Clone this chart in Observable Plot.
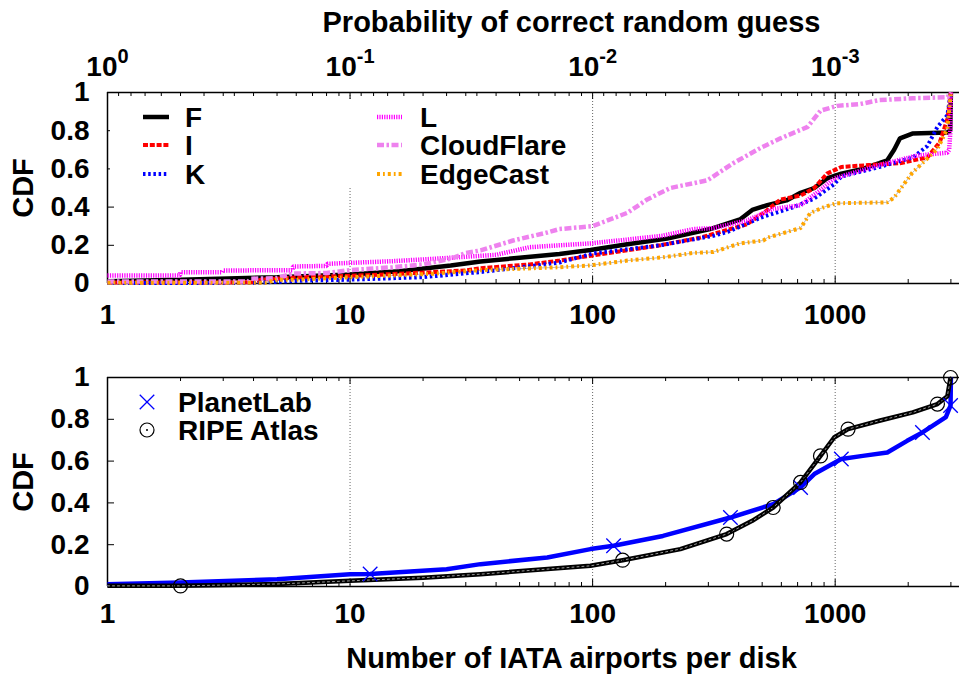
<!DOCTYPE html>
<html><head><meta charset="utf-8">
<script src="https://cdn.jsdelivr.net/npm/d3@7"></script>
<script src="https://cdn.jsdelivr.net/npm/@observablehq/plot@0.6"></script>
<style>
body{margin:0;background:#fff;}
#chart{width:959px;height:677px;position:relative;overflow:hidden;background:#fff;}
#chart svg{display:block;}
</style></head><body><div id="chart"></div>
<script>
// ---- Top panel series (x = number of IATA airports per disk, y = CDF) ----
const fX = [1, 2, 5, 10, 16, 26, 34.5, 50, 73, 98, 139, 203, 305, 405, 455, 525, 630, 720, 820, 925, 1060, 1300, 1520, 1640, 1750, 1850, 2080, 2900, 2980, 3000];
const fY = [0.012, 0.019, 0.033, 0.047, 0.064, 0.094, 0.115, 0.135, 0.155, 0.175, 0.205, 0.235, 0.285, 0.335, 0.385, 0.41, 0.435, 0.475, 0.5, 0.55, 0.575, 0.6, 0.63, 0.645, 0.7, 0.76, 0.785, 0.79, 0.8, 1];
const iX = [1, 4, 4.3, 6.2, 10, 16, 30, 34.5, 55, 73, 100, 190, 278, 433, 520, 595, 720, 820, 925, 1060, 1370, 1850, 2400, 2700, 2900, 3000];
const iY = [0.005, 0.006, 0.02, 0.033, 0.04, 0.051, 0.068, 0.08, 0.1, 0.12, 0.147, 0.2, 0.24, 0.31, 0.38, 0.44, 0.46, 0.5, 0.575, 0.61, 0.62, 0.63, 0.66, 0.74, 0.86, 1];
const kX = [1, 4, 6.2, 10, 20, 34.5, 55, 73, 100, 190, 315, 360, 493, 675, 820, 990, 1060, 1520, 2090, 2400, 2640, 2900, 3000];
const kY = [0.002, 0.003, 0.014, 0.02, 0.033, 0.06, 0.09, 0.11, 0.157, 0.2, 0.25, 0.27, 0.345, 0.4, 0.445, 0.52, 0.56, 0.61, 0.66, 0.72, 0.82, 0.88, 1];
const lX = [1, 1.99, 2, 2.97, 3, 5.8, 5.82, 8, 8.06, 15, 22, 30, 40, 55, 73, 98, 139, 195, 260, 315, 433, 555, 720, 870, 990, 1520, 1690, 2180, 2900, 2950, 2980, 3000];
const lY = [0.042, 0.042, 0.059, 0.059, 0.068, 0.07, 0.089, 0.092, 0.103, 0.117, 0.129, 0.14, 0.15, 0.19, 0.2, 0.21, 0.23, 0.25, 0.285, 0.29, 0.33, 0.39, 0.41, 0.49, 0.55, 0.62, 0.635, 0.67, 0.685, 0.7, 0.78, 1];
const cX = [1, 3.8, 3.9, 5, 5.8, 8, 10, 15, 20, 26, 30, 34.5, 47, 65, 73, 100, 139, 168, 209, 297, 380, 493, 595, 770, 870, 1020, 1270, 1520, 2090, 2900, 3000];
const cY = [0.01, 0.01, 0.025, 0.028, 0.052, 0.055, 0.07, 0.085, 0.1, 0.13, 0.16, 0.173, 0.225, 0.267, 0.285, 0.3, 0.37, 0.44, 0.5, 0.54, 0.63, 0.71, 0.76, 0.82, 0.905, 0.93, 0.94, 0.96, 0.97, 0.975, 1];
const eX = [1, 4.5, 5, 6, 10, 22, 34.5, 73, 98, 139, 195, 260, 315, 405, 505, 525, 675, 720, 790, 900, 1010, 1640, 1750, 2080, 2400, 2640, 2900, 3000];
const eY = [0.004, 0.004, 0.02, 0.02, 0.033, 0.051, 0.07, 0.085, 0.095, 0.12, 0.137, 0.16, 0.165, 0.21, 0.225, 0.24, 0.28, 0.29, 0.37, 0.4, 0.42, 0.425, 0.45, 0.58, 0.655, 0.705, 0.81, 1];

// ---- Bottom panel series ----
const pX = [1, 2, 5, 10, 12.1, 25, 34.5, 65, 98, 122, 195, 370, 555, 720, 820, 1060, 1300, 1640, 1980, 2290, 2860, 2990, 3000];
const pY = [0.011, 0.019, 0.035, 0.059, 0.06, 0.083, 0.107, 0.139, 0.179, 0.195, 0.242, 0.33, 0.394, 0.474, 0.538, 0.61, 0.625, 0.641, 0.697, 0.737, 0.81, 0.866, 1];
const rX = [1, 2, 5, 10, 20, 34.5, 98, 133, 230, 357, 455, 555, 720, 870, 990, 1130, 1520, 2090, 2640, 2900, 2990];
const rY = [0.003, 0.003, 0.012, 0.027, 0.042, 0.059, 0.099, 0.126, 0.179, 0.251, 0.314, 0.378, 0.498, 0.625, 0.713, 0.753, 0.793, 0.833, 0.873, 0.91, 1];
// point markers
const pMarkX = [12.1, 122, 370, 720, 1060, 2290, 2990];
const pMarkY = [0.06, 0.195, 0.33, 0.474, 0.61, 0.737, 0.866];
const rMarkX = [2, 133, 357, 555, 720, 870, 1130, 2640, 2990];
const rMarkY = [0.003, 0.126, 0.251, 0.378, 0.498, 0.625, 0.753, 0.873, 1];

// ---- Axis ticks & labels ----
const xMajor = [1, 10, 100, 1000];
const minorMult = [2, 3, 4, 5, 6, 7, 8, 9];
const yTicks = [0, 0.2, 0.4, 0.6, 0.8, 1];
const xDomain = [1, 3255];
const topTitle = "Probability of correct random guess";
const bottomTitle = "Number of IATA airports per disk";
const yTitle = "CDF";

const topNames = ["F", "I", "K", "L", "CloudFlare", "EdgeCast"];
const bottomNames = ["PlanetLab", "RIPE Atlas"];

// ---- styles ----
const topStyles = {
  "F": {stroke: "#000000", dash: null, w: 4.5},
  "I": {stroke: "#ff0000", dash: "5,1.8", w: 4},
  "K": {stroke: "#0000ff", dash: "2.5,2.7", w: 4},
  "L": {stroke: "#ff00ff", dash: "1.2,1.2", w: 4.5},
  "CloudFlare": {stroke: "#ee82ee", dash: "7,2.5,2.5,2.5", w: 4.5},
  "EdgeCast": {stroke: "#ffa500", dash: "3,3,1.8,3", w: 4}
};
const topData = {
  "F": d3.zip(fX, fY), "I": d3.zip(iX, iY), "K": d3.zip(kX, kY),
  "L": d3.zip(lX, lY), "CloudFlare": d3.zip(cX, cY), "EdgeCast": d3.zip(eX, eY)
};

const W = 959, ML = 107, MR = 0;
const innerW = W - ML - MR;
const FONT = "'Liberation Sans', Arial, Helvetica, sans-serif";
const baseStyle = {fontFamily: FONT, fontSize: "28px", fontWeight: "bold", background: "transparent", color: "#000", overflow: "visible"};

const minorBottom = xMajor.flatMap(d => minorMult.map(m => d * m)).filter(v => v <= xDomain[1]);
const minorX2 = [10, 100, 1000, 10000].flatMap(d => minorMult.map(m => d / m)).filter(v => v >= xDomain[0] && v <= xDomain[1]);

function frameMarks(innerH, topMinor) {
  const len = 7, lenMinor = 4;
  return [
    Plot.ruleY([0, 1], {stroke: "#000", strokeWidth: 1.5}),
    Plot.ruleX([xDomain[0]], {stroke: "#000", strokeWidth: 1.5}),
    Plot.tickX(xMajor, {x: d => d, insetTop: innerH - len, stroke: "#000", strokeWidth: 1}),
    Plot.tickX(minorBottom, {x: d => d, insetTop: innerH - lenMinor, stroke: "#000", strokeWidth: 1}),
    Plot.tickX(xMajor, {x: d => d, insetBottom: innerH - len, stroke: "#000", strokeWidth: 1}),
    Plot.tickX(topMinor, {x: d => d, insetBottom: innerH - lenMinor, stroke: "#000", strokeWidth: 1}),
    Plot.tickY(yTicks, {y: d => d, insetRight: innerW - len, stroke: "#000", strokeWidth: 1}),
    Plot.axisY(yTicks, {anchor: "left", tickSize: 0, tickPadding: 18, label: null, tickFormat: d => String(d), fontSize: 28}),
    Plot.text([yTitle], {frameAnchor: "left", text: d => d, rotate: -90, dx: -84, textAnchor: "middle", lineAnchor: "middle", fontSize: 29, fontWeight: "bold"})
  ];
}

// ---------- TOP PANEL ----------
const topH = 330, topMT = 92, topMB = 47;
const topInnerH = topH - topMT - topMB;
const topPlot = Plot.plot({
  width: W, height: topH,
  marginLeft: ML, marginRight: MR, marginTop: topMT, marginBottom: topMB,
  style: baseStyle,
  x: {type: "log", domain: xDomain},
  y: {domain: [0, 1]},
  marks: [
    Plot.ruleX([10, 100, 1000], {stroke: "#666", strokeWidth: 1, strokeDasharray: "1,2"}),
    ...frameMarks(topInnerH, Array.from(new Set([...minorBottom, ...minorX2]))),
    Plot.axisX(xMajor, {anchor: "bottom", tickSize: 0, tickPadding: 21, label: null, tickFormat: d => String(d), fontSize: 28}),
    Plot.axisX(xMajor, {anchor: "top", tickSize: 0, tickPadding: 17, label: null,
      tickFormat: d => "10^" + (d === 1 ? "0" : "-" + Math.round(Math.log10(d))), fontSize: 28}),
    Plot.text([topTitle], {frameAnchor: "top", text: d => d, dx: 38, dy: -61, textAnchor: "middle", lineAnchor: "bottom", fontSize: 29, fontWeight: "bold"}),
    Plot.line(topData["EdgeCast"], {x: d => d[0], y: d => d[1], stroke: "#aaa", strokeWidth: 0.8}),
    ...topNames.map(n => Plot.line(topData[n], {
      x: d => d[0], y: d => d[1], stroke: topStyles[n].stroke, strokeWidth: topStyles[n].w,
      strokeDasharray: topStyles[n].dash, strokeLinecap: "butt", strokeLinejoin: "miter"
    }))
  ]
});

// ---------- BOTTOM PANEL ----------
const botH = 347, botMT = 47, botMB = 91;
const botInnerH = botH - botMT - botMB;
const timesSize = 139;
const botPlot = Plot.plot({
  width: W, height: botH,
  marginLeft: ML, marginRight: MR, marginTop: botMT, marginBottom: botMB,
  style: baseStyle,
  x: {type: "log", domain: xDomain},
  y: {domain: [0, 1]},
  marks: [
    Plot.ruleX([10, 100, 1000], {stroke: "#666", strokeWidth: 1, strokeDasharray: "1,2"}),
    ...frameMarks(botInnerH, minorBottom),
    Plot.axisX(xMajor, {anchor: "bottom", tickSize: 0, tickPadding: 17, label: null, tickFormat: d => String(d), fontSize: 28}),
    Plot.text([bottomTitle], {frameAnchor: "bottom", text: d => d, dx: 38, dy: 81, textAnchor: "middle", lineAnchor: "bottom", fontSize: 29, fontWeight: "bold"}),
    Plot.line(d3.zip(pX, pY), {x: d => d[0], y: d => d[1], stroke: "#0000ff", strokeWidth: 4.5, strokeLinecap: "butt"}),
    Plot.line(d3.zip(rX, rY), {x: d => d[0], y: d => d[1], stroke: "#000", strokeWidth: 4.5, strokeLinecap: "butt"}),
    Plot.line(d3.zip(rX, rY), {x: d => d[0], y: d => d[1], stroke: "#fff", strokeOpacity: 0.6, strokeWidth: 1, strokeDasharray: "2,3"}),
    Plot.dot(d3.zip(pMarkX, pMarkY), {x: d => d[0], y: d => d[1], symbol: "times", r: Math.sqrt(timesSize / Math.PI), stroke: "#0000ff", strokeWidth: 1.3}),
    Plot.dot(d3.zip(rMarkX, rMarkY), {x: d => d[0], y: d => d[1], symbol: "circle", r: 7, stroke: "#000", fill: "none", strokeWidth: 1.2}),
    Plot.dot(d3.zip(rMarkX, rMarkY), {x: d => d[0], y: d => d[1], r: 1, fill: "#000", stroke: null})
  ]
});

// superscripts on the top axis labels
d3.select(topPlot).selectAll("text").each(function () {
  const m = /^10\^(.+)$/.exec(this.textContent);
  if (m) {
    const el = d3.select(this);
    el.selectAll("*").remove();
    el.text(null);
    el.append("tspan").text("10");
    el.append("tspan").attr("dy", -13).attr("font-size", 20).text(m[1]);
  }
});

// ---- top legend (opaque box, two columns) ----
{
  const svg = d3.select(topPlot);
  const g = svg.append("g").attr("font-family", FONT).attr("font-size", 28).attr("font-weight", "bold").attr("text-anchor", "start");
  g.append("rect").attr("x", 110).attr("y", 100).attr("width", 476).attr("height", 88).attr("fill", "#fff");
  const rowY = [117, 145, 174];
  const colSample = [[143, 169], [377, 402]];
  const colText = [185, 420];
  topNames.forEach((n, i) => {
    const col = Math.floor(i / 3), row = i % 3;
    const s = topStyles[n];
    g.append("line").attr("x1", colSample[col][0]).attr("x2", colSample[col][1])
      .attr("y1", rowY[row]).attr("y2", rowY[row])
      .attr("stroke", s.stroke).attr("stroke-width", s.w)
      .attr("stroke-dasharray", s.dash).attr("stroke-linecap", "butt");
    g.append("text").attr("x", colText[col]).attr("y", rowY[row]).attr("dy", "0.35em").attr("text-anchor", "start").text(n);
  });
}
// ---- bottom legend ----
{
  const svg = d3.select(botPlot);
  const g = svg.append("g").attr("font-family", FONT).attr("font-size", 28).attr("font-weight", "bold").attr("text-anchor", "start");
  const rowY = [72, 100];
  g.append("path").attr("transform", `translate(147,${rowY[0]})`)
    .attr("d", d3.symbol(d3.symbolTimes, timesSize)()).attr("stroke", "#0000ff").attr("stroke-width", 1.3).attr("fill", "none");
  g.append("circle").attr("cx", 147).attr("cy", rowY[1]).attr("r", 7).attr("fill", "none").attr("stroke", "#000").attr("stroke-width", 1.2);
  g.append("circle").attr("cx", 147).attr("cy", rowY[1]).attr("r", 1).attr("fill", "#000");
  bottomNames.forEach((n, i) => {
    g.append("text").attr("x", 178).attr("y", rowY[i]).attr("dy", "0.35em").attr("text-anchor", "start").text(n);
  });
}

document.getElementById("chart").append(topPlot, botPlot);
</script>
</body></html>
